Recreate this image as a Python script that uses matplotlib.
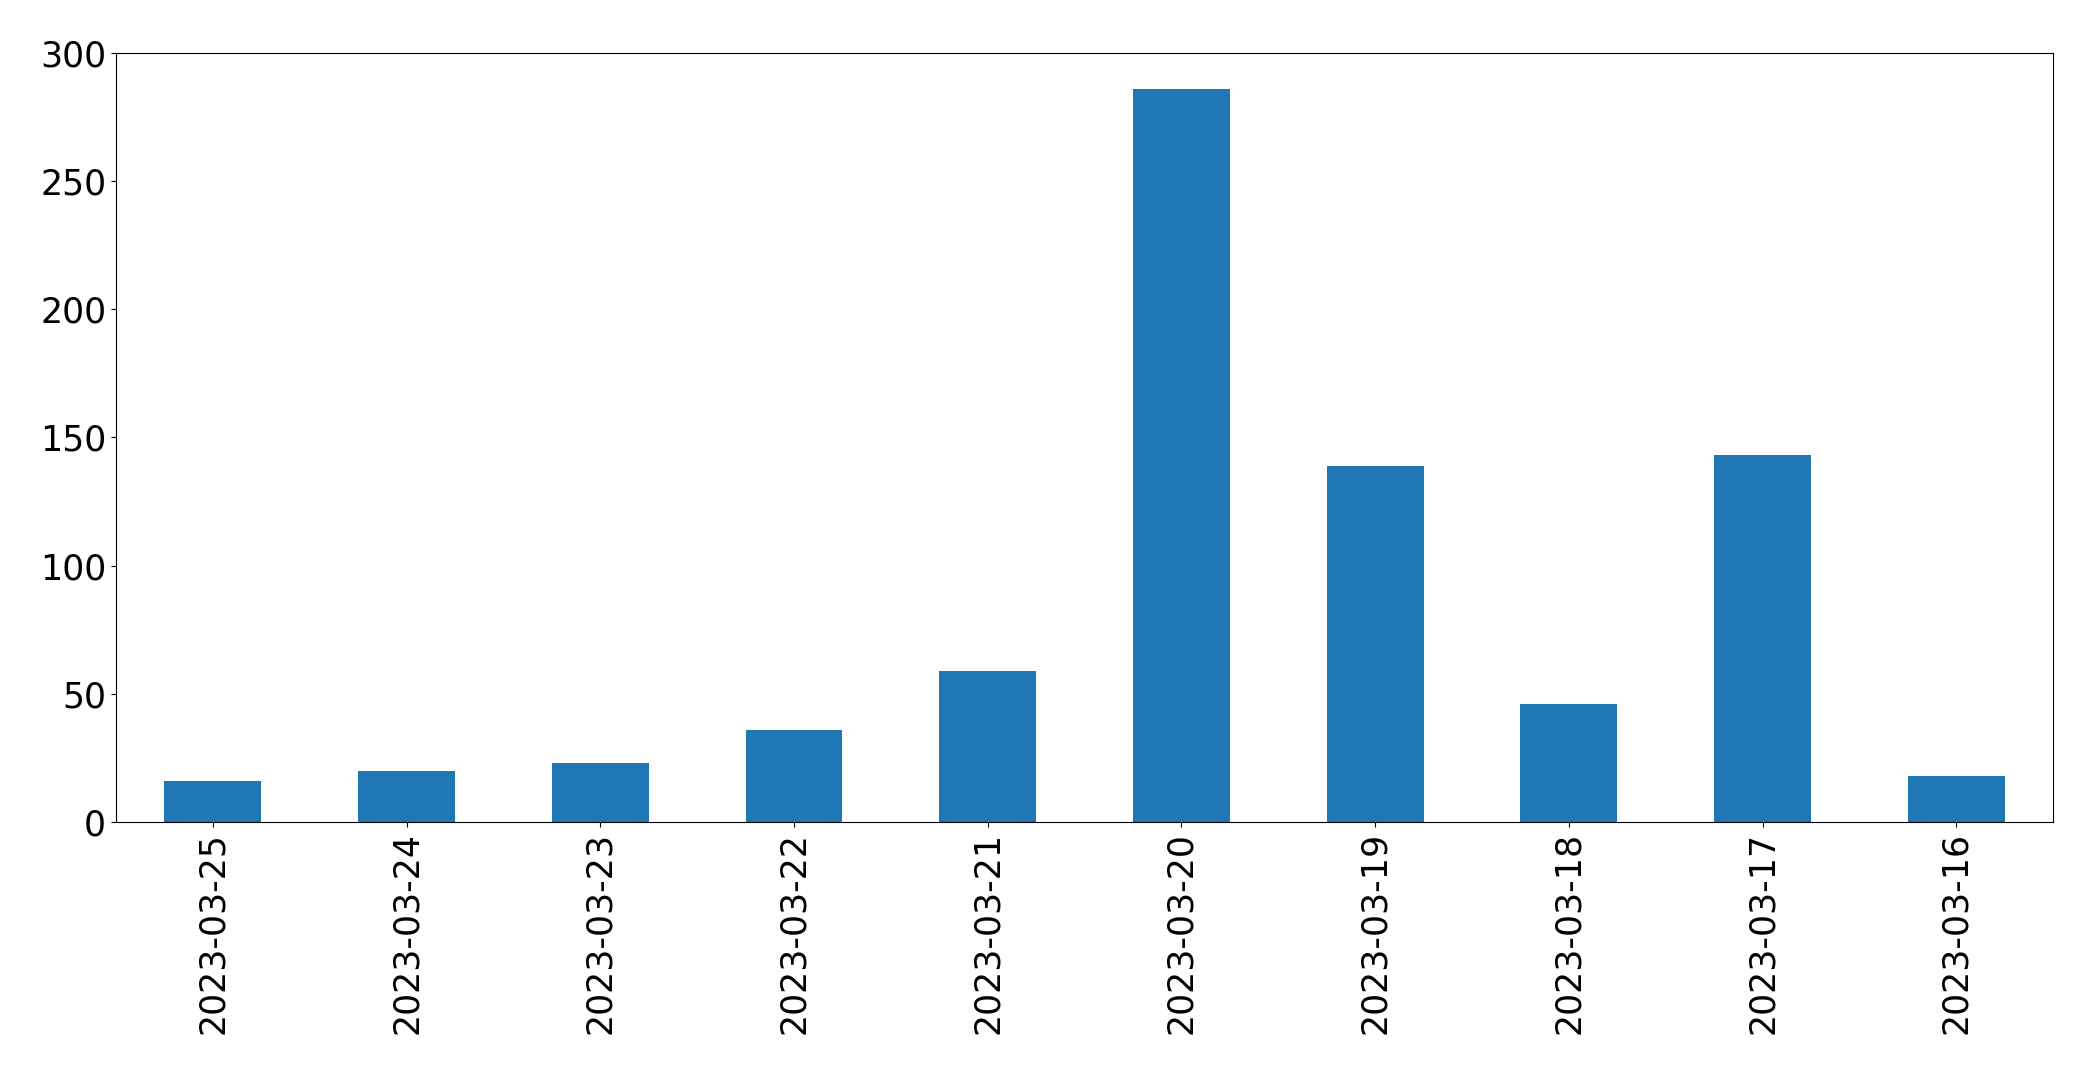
import matplotlib
matplotlib.use("Agg")
import matplotlib.pyplot as plt

dates = ["2023-03-25", "2023-03-24", "2023-03-23", "2023-03-22", "2023-03-21",
         "2023-03-20", "2023-03-19", "2023-03-18", "2023-03-17", "2023-03-16"]
counts = [16, 20, 23, 36, 59, 286, 139, 46, 143, 18]

fig, ax = plt.subplots(figsize=(20.93, 10.74), dpi=100)
fig.subplots_adjust(left=0.0554, right=0.981, top=0.9507, bottom=0.2346)

x = range(len(dates))
ax.bar(x, counts, width=0.5, color="#1f77b4")
ax.set_xlim(-0.5, len(dates) - 0.5)
ax.set_ylim(0, 300)
ax.set_xticks(list(x))
ax.set_xticklabels(dates, rotation=90)
ax.tick_params(axis="both", labelsize=25)
for s in ax.spines.values():
    s.set_color("black")

fig.savefig("out.png", dpi=100)
